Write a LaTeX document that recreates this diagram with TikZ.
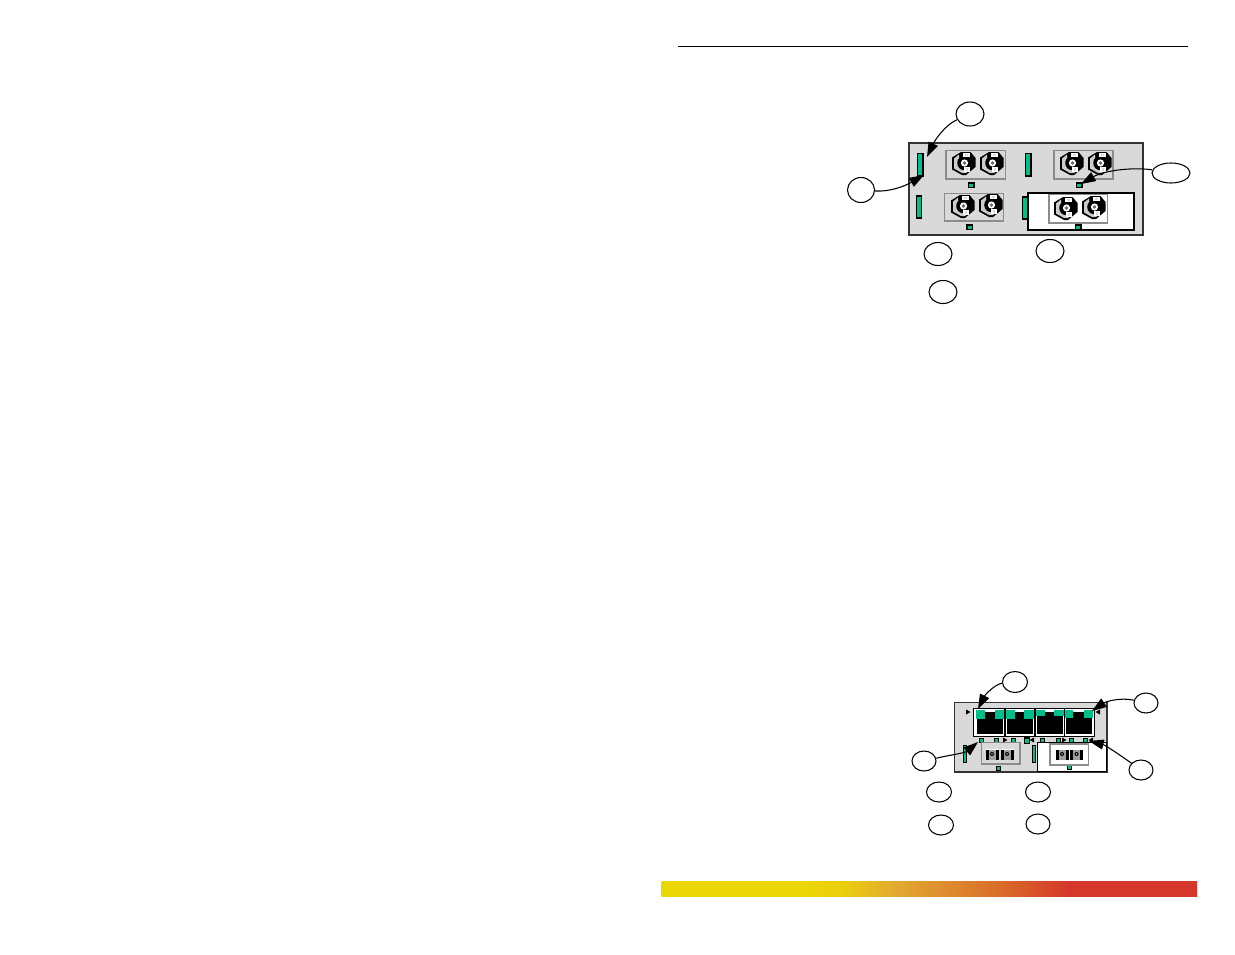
\documentclass[tikz,border=0pt]{standalone}
\usetikzlibrary{shapes.geometric,arrows.meta}
\definecolor{panelgray}{RGB}{217,217,217}
\definecolor{framegray}{RGB}{140,140,140}
\definecolor{ledgreen}{RGB}{0,190,140}
\definecolor{barY}{RGB}{235,215,5}
\definecolor{barYb}{RGB}{235,205,12}
\definecolor{barO}{RGB}{226,168,50}
\definecolor{barOb}{RGB}{218,112,42}
\definecolor{barR}{RGB}{213,56,42}
\pgfdeclarehorizontalshading{barshade}{100bp}{
 color(0bp)=(barY);
 color(25bp)=(barY);
 color(38bp)=(barY);
 color(42bp)=(barYb);
 color(47bp)=(barO);
 color(56bp)=(barOb);
 color(63bp)=(barR);
 color(75bp)=(barR);
 color(100bp)=(barR)}
\tikzset{
 callout/.style 2 args={draw=black,line width=0.8pt,fill=white,ellipse,inner sep=0pt,minimum width=#1*0.75pt,minimum height=#2*0.75pt},
 link/.style={draw=black,line width=0.8pt,-{Triangle[length=11pt,width=7.5pt]}},
 panel/.style={draw=black!80,line width=1.05pt,fill=panelgray},
 panelthin/.style={draw=black!80,line width=0.8pt,fill=panelgray},
 whitebox/.style={draw=black,line width=1.2pt,fill=white},
 whitethin/.style={draw=black,line width=0.7pt,fill=white},
 frameA/.style={draw=framegray,line width=1.3pt,fill=panelgray},
 frameB/.style={draw=framegray,line width=1.3pt,fill=white},
 greenbar/.style={draw=black,line width=0.8pt,fill=ledgreen},
 tinytri/.style={fill=black,draw=none},
 pics/hexcon/.style={code={
  \fill[black] (-12,-5.5) -- (-3,-11) -- (6.5,-11) -- (11.5,-5) -- (11.5,4) -- (2,12) -- (-2,12) -- (-12,6.5) -- cycle;
  \fill[white!80!black] (-5,-8.5) -- (-10,-4.5) -- (-10,5.5) -- (-2,10) -- (2,10) -- (6,7) -- (-4,2) -- cycle;
  \fill[black] (0.5,0) circle (7.3);
  \fill[white] (0.5,0) circle (3.6);
  \fill[black!60] (0.5,0) circle (1.9);
  \fill[white] (-1.5,-10.5) rectangle (5.5,-6);
  \fill[panelgray] (0.5,-9.5) rectangle (4,-7.2);
  \fill[white] (-0.5,4) rectangle (5.5,9);
  \fill[panelgray] (1.5,5) rectangle (4,7.5);
 }},
 pics/sccon/.style={code={
  \fill[black] (-6.5,-5.5) rectangle (6.5,5.5);
  \fill[white] (-6.5,-5.5) rectangle (6.5,-4.5);
  \fill[black!38] (-3.3,-4.5) rectangle (3.5,5.5);
  \fill[black] (0,0) circle (2);
  \fill[white!70!black] (0,0) circle (0.8);
 }}
}
\newcommand{\greenled}[2]{\fill[black] (#1-3.5,#2-3) rectangle (#1+3.5,#2+3);\fill[ledgreen] (#1-2,#2-1.5) rectangle (#1+2,#2+1.5);}
\newcommand{\tinyled}[2]{\fill[black] (#1-2.5,#2-2.5) rectangle (#1+2.5,#2+2.5);\fill[ledgreen] (#1-1.5,#2-1.5) rectangle (#1+1.5,#2+1.5);}
% x of body left, body right, left green end, right green start, green bottom
\newcommand{\rjport}[5]{%
  \fill[black] (#1,715) rectangle (#2,734);
  \fill[black] (#3,711.5) rectangle (#4,716);
  \fill[ledgreen] (#1-1.5,710) rectangle (#3,#5);
  \fill[ledgreen] (#4,710) rectangle (#2+1,#5);}
\begin{document}
\begin{tikzpicture}[x=0.75pt,y=-0.75pt]
\useasboundingbox (0,0) rectangle (1235,954);
\fill[white] (0,0) rectangle (1235,954);
% header rule and bar
\coordinate (ruleL) at (678,46); \coordinate (ruleR) at (1188,46);
\draw[black,line width=0.7pt] (ruleL) -- (ruleR);
\path[shading=barshade] (661.5,881) rectangle (1197,896);

% ---------- top panel ----------
\draw[panel] (909,143) rectangle (1143,235);
\draw[whitebox] (1028,193) rectangle (1134,230);
\draw[greenbar] (917.5,153.5) rectangle (923,176);
\draw[greenbar] (1025.5,153.5) rectangle (1031,176);
\draw[greenbar] (916.5,196) rectangle (921.5,218);
\draw[greenbar] (1022.5,197) rectangle (1028,219);
\draw[frameA] (946,150.5) rectangle (1005.5,179);
\draw[frameA] (1054,150.5) rectangle (1113,179);
\draw[frameA] (944.5,193.5) rectangle (1003.5,221);
\draw[frameB] (1049,194.5) rectangle (1107.5,223);
\foreach \hx/\hy in {964/163,992/163,1072/163,1100/163,963/206,991/205,1066/208,1094/207}
  \pic at (\hx,\hy) {hexcon};
\greenled{971}{185}\greenled{1079}{185}\greenled{969.5}{227}\greenled{1078}{227}

\node[callout={28}{24}] (ta) at (970,114) {};
\node[callout={27}{25}] (tb) at (861,190) {};
\node[callout={38}{20}] (tc) at (1171,173) {};
\node[callout={28}{23}] (td) at (938,254) {};
\node[callout={28}{23}] (te) at (1050,251) {};
\node[callout={28}{23}] (tf) at (943,292) {};
\coordinate (taEnd) at (927,157);
\coordinate (tbEnd) at (924,175);
\coordinate (tcEnd) at (1081,184);
\draw[link] (ta) .. controls (945,125) and (935,140) .. (taEnd);
\draw[link] (tb) .. controls (890,192) and (905,186) .. (tbEnd);
\draw[link] (tc) .. controls (1135,167) and (1105,170) .. (tcEnd);

% ---------- bottom panel ----------
\draw[panelthin] (954.5,702.5) rectangle (1107,772);
\draw[whitethin] (1037,742) rectangle (1106,771);
\draw[draw=black,line width=0.9pt,fill=white] (973.5,708.7) rectangle (1094.5,736.8);
\rjport{977}{1003}{985}{995}{718.5}
\rjport{1007}{1032.5}{1014.5}{1024}{718.5}
\rjport{1036.5}{1062.5}{1044.5}{1054}{715.5}
\rjport{1066}{1091.5}{1072.5}{1084}{717.5}
\foreach \sx in {1005,1035,1064.5}
  \draw[black,line width=0.9pt] (\sx,709) -- (\sx,736.8);
\foreach \lx in {981,996,1013,1042,1058,1071,1085} {\tinyled{\lx}{740}}
\fill[black] (1023.5,737) rectangle (1030,744); \fill[ledgreen] (1025,738.5) rectangle (1028.5,742.5);
\tinyled{998}{768}\tinyled{1069}{767}
\draw[greenbar,line width=0.6pt] (963.5,745) rectangle (966.5,762);
\draw[greenbar,line width=0.6pt] (1032.5,745) rectangle (1035.5,762);
\draw[frameA] (981.5,742.5) rectangle (1020,764);
\draw[frameB] (1050,744) rectangle (1088.5,765);
\foreach \sx/\sy in {992/754,1007/754,1062/754,1076.5/754}
  \pic at (\sx,\sy) {sccon};
\foreach \tx/\ty in {966/712,1003/740,1062/740}
  \fill[tinytri] (\tx,\ty-2.5) -- (\tx+4.5,\ty) -- (\tx,\ty+2.5) -- cycle;
\foreach \tx/\ty in {1100/712,1034/740,1093/740}
  \fill[tinytri] (\tx,\ty-2.5) -- (\tx-4.5,\ty) -- (\tx,\ty+2.5) -- cycle;

\node[callout={25}{21}] (ba) at (1015,682) {};
\node[callout={24}{20}] (bb) at (1146,703) {};
\node[callout={24}{20}] (bc) at (924,761) {};
\node[callout={24}{20}] (bd) at (1141,770) {};
\node[callout={25}{20}] (be) at (939,792) {};
\node[callout={25}{20}] (bf) at (1038,792) {};
\node[callout={25}{20}] (bg) at (941,825) {};
\node[callout={24}{20}] (bh) at (1038,824) {};
\coordinate (baEnd) at (978,709);
\coordinate (bbEnd) at (1092,711);
\coordinate (bcEnd) at (978,742);
\coordinate (bdEnd) at (1089,741);
\draw[link] (ba) .. controls (995,684) and (985,695) .. (baEnd);
\draw[link] (bb) .. controls (1120,697) and (1105,702) .. (bbEnd);
\draw[link] (bc) .. controls (950,755) and (965,753) .. (bcEnd);
\draw[link] (bd) .. controls (1120,755) and (1105,745) .. (bdEnd);
\end{tikzpicture}
\end{document}
